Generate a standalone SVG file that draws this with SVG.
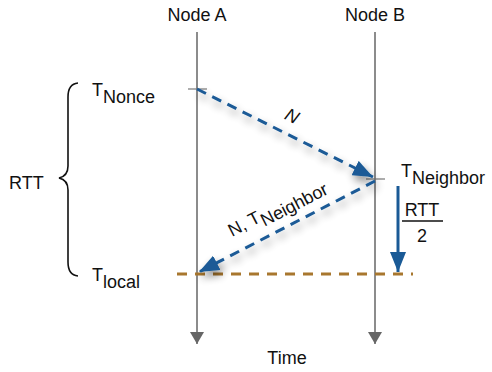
<svg xmlns="http://www.w3.org/2000/svg" width="492" height="372" viewBox="0 0 492 372">
<style>
text{font-family:"Liberation Sans",Arial,sans-serif;font-size:18px;fill:#111}
.life{stroke:#666;stroke-width:1.5;fill:none}
.msg{stroke:#1a5a96;stroke-width:3;fill:none;stroke-dasharray:10 7}
.tick{stroke:#777;stroke-width:1.2}
</style>
<defs>
<marker id="gh" markerWidth="12" markerHeight="14" refX="12" refY="7" orient="auto" markerUnits="userSpaceOnUse"><path d="M0,0 L12,7 L0,14 Z" fill="#666"/></marker>
<marker id="bh" markerWidth="20" markerHeight="16" refX="20" refY="8" orient="auto" markerUnits="userSpaceOnUse"><path d="M0,0 L20,8 L0,16 Z" fill="#1a5a96"/></marker>
<filter id="sh" x="-20%" y="-20%" width="140%" height="140%"><feGaussianBlur in="SourceAlpha" stdDeviation="4"/><feOffset dx="2" dy="5"/><feComponentTransfer><feFuncA type="linear" slope="0.45"/></feComponentTransfer><feMerge><feMergeNode/><feMergeNode in="SourceGraphic"/></feMerge></filter>
</defs>
<g id="nodeA"><text x="197" y="21" text-anchor="middle">Node A</text><line class="life" x1="197" y1="32" x2="197" y2="344" marker-end="url(#gh)"/></g>
<g id="nodeB"><text x="375" y="21" text-anchor="middle">Node B</text><line class="life" x1="375" y1="32" x2="375" y2="344" marker-end="url(#gh)"/></g>
<text x="287" y="364" text-anchor="middle">Time</text>
<g id="labels">
<text x="92" y="96">T<tspan dy="7">Nonce</tspan></text>
<text x="92" y="281">T<tspan dy="7">local</tspan></text>
<text x="401" y="177">T<tspan dy="7">Neighbor</tspan></text>
<text x="9" y="189">RTT</text>
<text x="422" y="216" text-anchor="middle" font-size="19">RTT</text>
<line x1="402" y1="221" x2="443" y2="221" stroke="#111" stroke-width="1.5"/>
<text x="422" y="242" text-anchor="middle" font-size="19">2</text>
<path d="M78,83 Q68,84 68,97 L68,166 Q68,176 59,178 Q68,180 68,190 L68,262 Q68,275 78,276" fill="none" stroke="#111" stroke-width="1.6"/>
</g>
<g id="connectors">
<line class="tick" x1="188" y1="89" x2="207" y2="89"/>
<line class="tick" x1="366" y1="179" x2="385" y2="179"/>
<line x1="177" y1="274" x2="413" y2="274" stroke="#a8772e" stroke-width="3" stroke-dasharray="10 8"/>
<g filter="url(#sh)">
<line class="msg" x1="197" y1="89" x2="373" y2="177" marker-end="url(#bh)"/>
<line class="msg" x1="375" y1="181" x2="199" y2="272" marker-end="url(#bh)"/>
</g>
<line x1="398" y1="186" x2="398" y2="272" stroke="#1a5a96" stroke-width="3" marker-end="url(#bh)"/>
<text x="292" y="122" text-anchor="middle" transform="rotate(26.6 292 116)" font-style="italic" font-size="19">N</text>
<text x="277" y="213" text-anchor="middle" transform="rotate(-27.5 277 208)" font-size="20">N, T<tspan dy="6">Neighbor</tspan></text>
</g>
</svg>
